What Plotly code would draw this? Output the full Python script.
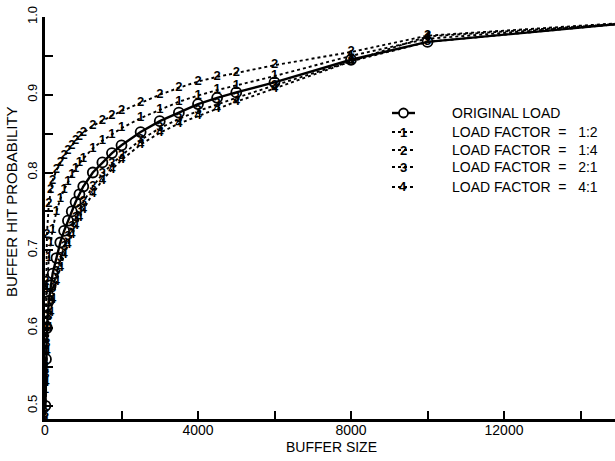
import plotly.graph_objects as go

# ---- data ----
buffer_size = [10, 25, 50, 100, 150, 200, 300, 400, 500, 600, 700, 800, 900, 1000,
               1250, 1500, 1750, 2000, 2500, 3000, 3500, 4000, 4500, 5000, 6000,
               8000, 10000, 15000]

original_load = [0.50, 0.56, 0.60, 0.635, 0.655, 0.67, 0.69, 0.71, 0.725, 0.738, 0.75,
                 0.762, 0.772, 0.782, 0.80, 0.813, 0.825, 0.835, 0.852, 0.866, 0.877,
                 0.888, 0.896, 0.903, 0.916, 0.945, 0.968, 0.991]
load_1_2 = [0.52, 0.60, 0.65, 0.69, 0.71, 0.727, 0.75, 0.766, 0.778, 0.788, 0.797,
            0.805, 0.812, 0.818, 0.831, 0.841, 0.849, 0.857, 0.870, 0.881, 0.891,
            0.899, 0.906, 0.912, 0.924, 0.950, 0.972, 0.991]
load_1_4 = [0.55, 0.66, 0.72, 0.76, 0.778, 0.79, 0.803, 0.813, 0.821, 0.828, 0.835,
            0.841, 0.846, 0.851, 0.860, 0.867, 0.873, 0.879, 0.890, 0.900, 0.909,
            0.917, 0.923, 0.928, 0.938, 0.955, 0.976, 0.992]
load_2_1 = [0.49, 0.54, 0.58, 0.615, 0.635, 0.65, 0.672, 0.69, 0.705, 0.718, 0.73,
            0.742, 0.752, 0.762, 0.782, 0.798, 0.811, 0.822, 0.842, 0.857, 0.869,
            0.879, 0.888, 0.896, 0.912, 0.943, 0.968, 0.991]
load_4_1 = [0.48, 0.53, 0.57, 0.60, 0.62, 0.637, 0.66, 0.678, 0.694, 0.707, 0.72,
            0.731, 0.742, 0.752, 0.773, 0.79, 0.804, 0.816, 0.836, 0.851, 0.863,
            0.873, 0.882, 0.891, 0.908, 0.943, 0.975, 0.991]

series_labels = ["ORIGINAL LOAD", "LOAD FACTOR\u00a0\u00a0=\u00a0\u00a0\u00a01:2",
                 "LOAD FACTOR\u00a0\u00a0=\u00a0\u00a0\u00a01:4",
                 "LOAD FACTOR\u00a0\u00a0=\u00a0\u00a0\u00a02:1",
                 "LOAD FACTOR\u00a0\u00a0=\u00a0\u00a0\u00a04:1"]
series_marks = ["", "1", "2", "3", "4"]

x_title = "BUFFER SIZE"
y_title = "BUFFER HIT PROBABILITY"

FONT = "Liberation Sans, Arial, sans-serif"
W, H = 615, 461
ML, MR, MT, MB = 45, 0, 17, 42
X_MAX = 14902

# marks are only drawn for points inside the visible x range
visible = [x <= X_MAX for x in buffer_size]

fig = go.Figure()

fig.add_trace(go.Scatter(
    x=buffer_size, y=original_load, mode="lines+markers", name=series_labels[0],
    line=dict(color="black", width=2.4),
    marker=dict(symbol="circle-open", size=[10 if v else 0 for v in visible],
                color="black", opacity=1, line=dict(width=1.8)),
    showlegend=False, hoverinfo="skip"))

for vals, mark, lab in zip([load_1_2, load_1_4, load_2_1, load_4_1], series_marks[1:], series_labels[1:]):
    fig.add_trace(go.Scatter(
        x=buffer_size, y=vals, mode="lines+text", name=lab,
        text=[mark if v else "" for v in visible], textposition="middle center",
        textfont=dict(family=FONT, size=13, color="black", weight="bold"),
        line=dict(color="black", width=1.9, dash="dot"),
        showlegend=False, hoverinfo="skip"))

# ---- manual legend (pixel helpers) ----
pw, ph = W - ML - MR, H - MT - MB
def px(xp):
    return (xp - ML) / pw
def py(yp):
    return (H - MB - yp) / ph

row_y = [113, 132, 150, 167, 187]
shapes = []
annotations = []
for i, (lab, mark, yy) in enumerate(zip(series_labels, series_marks, row_y)):
    if i == 0:
        shapes.append(dict(type="line", xref="paper", yref="paper", x0=px(392), x1=px(415),
                           y0=py(yy), y1=py(yy), line=dict(color="black", width=2.4)))
        shapes.append(dict(type="circle", xref="paper", yref="paper",
                           x0=px(399), x1=px(408), y0=py(yy + 4.5), y1=py(yy - 4.5),
                           line=dict(color="black", width=1.8), fillcolor="white"))
    else:
        shapes.append(dict(type="line", xref="paper", yref="paper", x0=px(392), x1=px(414),
                           y0=py(yy), y1=py(yy), line=dict(color="black", width=1.9, dash="dot")))
        annotations.append(dict(text=mark, xref="paper", yref="paper", x=px(403), y=py(yy),
                                showarrow=False, xanchor="center", yanchor="middle",
                                font=dict(family=FONT, size=13, color="black", weight="bold"),
                                bgcolor="rgba(0,0,0,0)"))
    annotations.append(dict(text=lab, xref="paper", yref="paper", x=px(450), y=py(yy),
                            showarrow=False, xanchor="left", yanchor="middle",
                            font=dict(family=FONT, size=14, color="black")))

annotations.append(dict(text=x_title, xref="paper", yref="paper", x=px(331), y=py(447),
                        showarrow=False, xanchor="center", yanchor="middle",
                        font=dict(family=FONT, size=14, color="black")))
annotations.append(dict(text=y_title, xref="paper", yref="paper", x=px(12), y=py(202),
                        showarrow=False, xanchor="center", yanchor="middle", textangle=-90,
                        font=dict(family=FONT, size=15, color="black")))

fig.update_layout(
    width=W, height=H, autosize=False,
    margin=dict(l=ML, r=MR, t=MT, b=MB, pad=0),
    paper_bgcolor="white", plot_bgcolor="white",
    shapes=shapes, annotations=annotations, hovermode=False,
    font=dict(family=FONT, color="black"),
    xaxis=dict(range=[0, X_MAX], showline=True, linewidth=2.5, linecolor="black",
               ticks="inside", ticklen=8, tickwidth=1.5, tickcolor="black",
               dtick=4000, tick0=0, tickformat="d", showgrid=False, zeroline=False,
               ticklabelstandoff=-4, automargin=False,
               tickfont=dict(family=FONT, size=14, color="black"),
               minor=dict(dtick=2000, ticks="inside", ticklen=8, tickwidth=1.5, tickcolor="black",
                          showgrid=False)),
    yaxis=dict(range=[0.483, 1.0], showline=True, linewidth=2.5, linecolor="black",
               ticks="inside", ticklen=8, tickwidth=1.5, tickcolor="black",
               dtick=0.1, tick0=0, tickformat=".1f", tickangle=-90, showgrid=False,
               zeroline=False, automargin=False, tickfont=dict(family=FONT, size=13, color="black"),
               minor=dict(dtick=0.05, ticks="inside", ticklen=8, tickwidth=1.5, tickcolor="black",
                          showgrid=False)),
)

fig.write_html("out.html", config={"displayModeBar": False},
               post_script="document.body.style.margin='0';")
